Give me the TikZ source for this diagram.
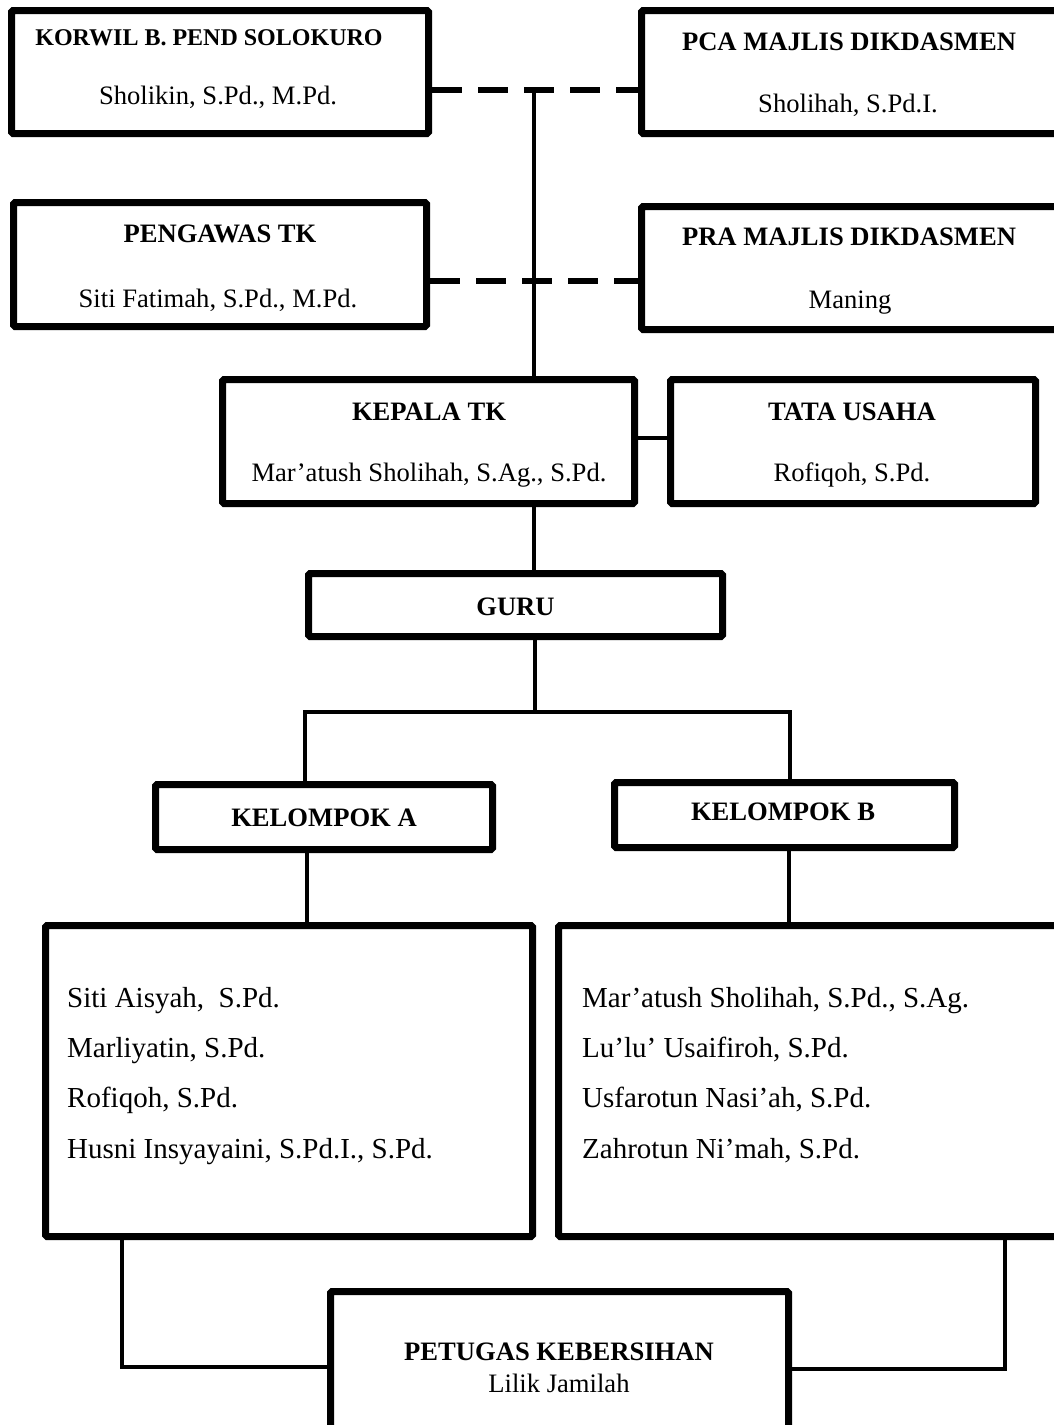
\documentclass[tikz,border=0pt]{standalone}
\usepackage{fontspec}
\setmainfont{Liberation Serif}
\begin{document}
\begin{tikzpicture}[x=1pt,y=-1pt,
  orgbox/.style={draw=black, line width=7pt, rounded corners=1.5pt, fill=white, inner sep=0pt},
  ttl/.style={font=\fontsize{26.6}{30}\selectfont\bfseries, inner sep=0pt, anchor=base},
  nm/.style={font=\fontsize{26.6}{30}\selectfont, inner sep=0pt, anchor=base},
  lst/.style={font=\fontsize{29}{33}\selectfont, inner sep=0pt, anchor=base west},
  link/.style={line width=4pt, line join=miter},
  dlink/.style={line width=6pt, dash pattern=on 30pt off 16pt}]
\useasboundingbox (0,0) rectangle (1054,1425);
\clip (0,0) rectangle (1054,1425);

% boxes
\node[orgbox, minimum width=417pt, minimum height=123pt] (korwil) at (220,72) {};
\node[orgbox, minimum width=417pt, minimum height=123pt] (pca) at (850,72) {};
\node[orgbox, minimum width=413pt, minimum height=124pt] (pengawas) at (220,264.5) {};
\node[orgbox, minimum width=417pt, minimum height=123pt] (pra) at (850,268) {};
\node[orgbox, minimum width=412pt, minimum height=124pt] (kepala) at (428.5,441.5) {};
\node[orgbox, minimum width=365pt, minimum height=124pt] (tata) at (853,441.5) {};
\node[orgbox, minimum width=414pt, minimum height=63pt] (guru) at (515.5,605) {};
\node[orgbox, minimum width=337pt, minimum height=65pt] (kela) at (324,817) {};
\node[orgbox, minimum width=340pt, minimum height=65pt] (kelb) at (784.5,815) {};
\node[orgbox, minimum width=487pt, minimum height=311pt] (biga) at (289,1081) {};
\node[orgbox, minimum width=499pt, minimum height=311pt] (bigb) at (808,1081) {};
\node[orgbox, minimum width=458pt, minimum height=145pt] (petugas) at (559.5,1364) {};

% connectors
\coordinate (j1) at (534,90);
\coordinate (j2) at (534,281);
\draw[dlink] (korwil.east |- j1) -- (pca.west |- j1);
\draw[dlink] (pengawas.east |- j2) -- (pra.west |- j2);
\draw[link] (j1) -- (j1 |- kepala.north);
\coordinate (j3) at (650,438);
\draw[link] (kepala.east |- j3) -- (tata.west |- j3);
\draw[link] (j1 |- kepala.south) -- (j1 |- guru.north);
\coordinate (j4) at (535,712);
\coordinate (ja) at (305,712);
\coordinate (jb) at (790,712);
\draw[link] (j4 |- guru.south) -- (j4);
\draw[link] (ja |- kela.north) -- (ja) -- (jb) -- (jb |- kelb.north);
\coordinate (ka) at (307,880);
\coordinate (kb) at (789,880);
\draw[link] (ka |- kela.south) -- (ka |- biga.north);
\draw[link] (kb |- kelb.south) -- (kb |- bigb.north);
\coordinate (pa) at (122,1367);
\coordinate (pb) at (1005,1369);
\draw[link] (pa |- biga.south) -- (pa) -- (petugas.west |- pa);
\draw[link] (pb |- bigb.south) -- (pb) -- (petugas.east |- pb);

% texts
\node[ttl, font=\fontsize{24}{28}\selectfont\bfseries] (korwilT) at (209,45) {KORWIL B. PEND SOLOKURO};
\node[nm] (korwilN) at (218,104.6) {Sholikin, S.Pd., M.Pd.};
\node[ttl] (pcaT) at (849,50.5) {PCA MAJLIS DIKDASMEN};
\node[nm] (pcaN) at (848,112.5) {Sholihah, S.Pd.I.};
\node[ttl] (pengT) at (220,242.5) {PENGAWAS TK};
\node[nm] (pengN) at (218,307.5) {Siti Fatimah, S.Pd., M.Pd.};
\node[ttl] (praT) at (849,245.5) {PRA MAJLIS DIKDASMEN};
\node[nm] (praN) at (850,308.5) {Maning};
\node[ttl] (kepT) at (429,420.5) {KEPALA TK};
\node[nm] (kepN) at (429,481.5) {Mar'atush Sholihah, S.Ag., S.Pd.};
\node[ttl] (tataT) at (852,420.5) {TATA USAHA};
\node[nm] (tataN) at (852,481.5) {Rofiqoh, S.Pd.};
\node[ttl] (guruT) at (515.5,615.5) {GURU};
\node[ttl] (kelaT) at (324,826.5) {KELOMPOK A};
\node[ttl] (kelbT) at (783,820.5) {KELOMPOK B};
\node[lst] (a1) at (67,1007) {Siti Aisyah,~ S.Pd.};
\node[lst] (a2) at (67,1057) {Marliyatin, S.Pd.};
\node[lst] (a3) at (67,1107) {Rofiqoh, S.Pd.};
\node[lst] (a4) at (67,1158) {Husni Insyayaini, S.Pd.I., S.Pd.};
\node[lst] (b1) at (582,1007) {Mar'atush Sholihah, S.Pd., S.Ag.};
\node[lst] (b2) at (582,1057) {Lu'lu' Usaifiroh, S.Pd.};
\node[lst] (b3) at (582,1107) {Usfarotun Nasi'ah, S.Pd.};
\node[lst] (b4) at (582,1158) {Zahrotun Ni'mah, S.Pd.};
\node[ttl] (petT) at (559,1360.5) {PETUGAS KEBERSIHAN};
\node[nm] (petN) at (559,1392.5) {Lilik Jamilah};
\end{tikzpicture}
\end{document}
